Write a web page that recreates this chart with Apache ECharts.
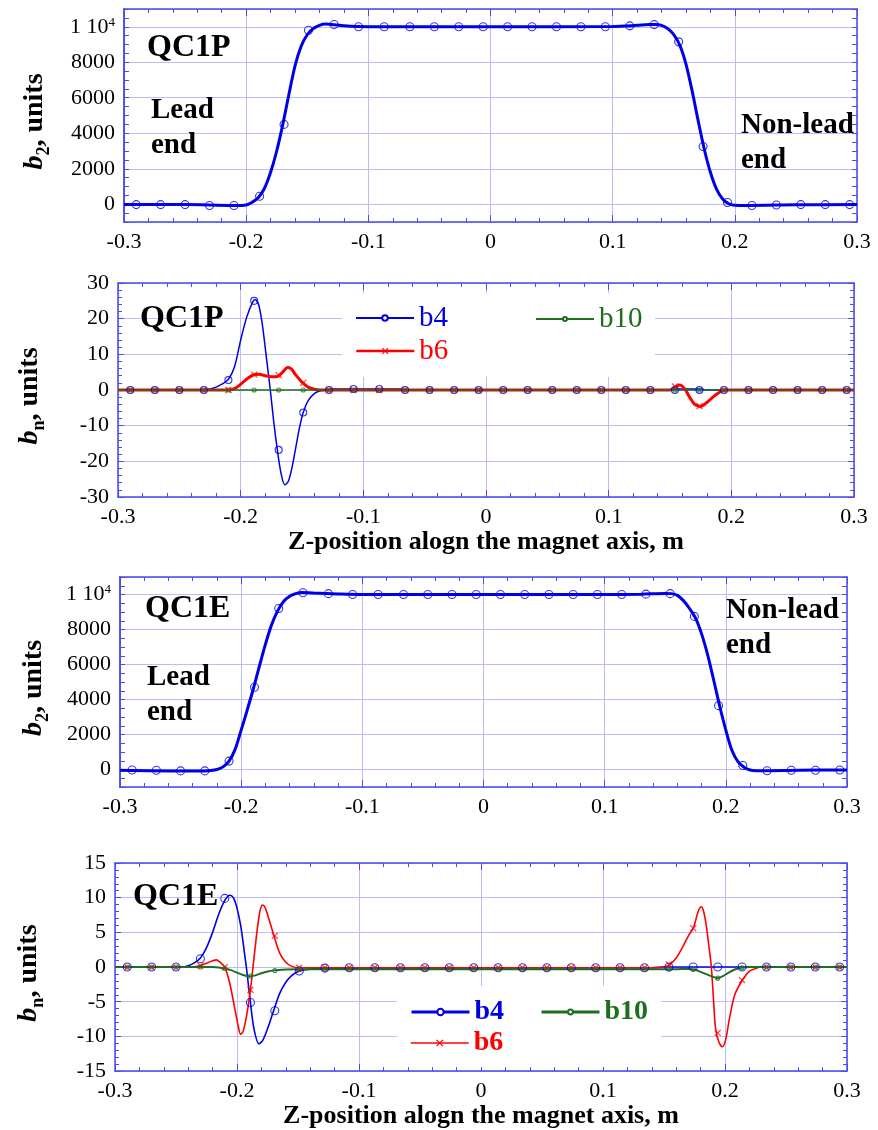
<!DOCTYPE html>
<html><head><meta charset="utf-8">
<script src="https://cdn.jsdelivr.net/npm/echarts@6/dist/echarts.min.js"></script>
<style>html,body{margin:0;padding:0;background:#fff}#c{width:878px;height:1130px}</style>
</head><body><div id="c"></div>
<script>
// ---------- DATA ----------
const zMarks = [-0.290,-0.270,-0.250,-0.230,-0.210,-0.189,-0.169,-0.149,-0.128,-0.108,-0.087,-0.066,-0.046,-0.026,-0.006,0.014,0.034,0.054,0.074,0.094,0.114,0.134,0.154,0.174,0.194,0.214,0.234,0.254,0.274,0.294];

// Panel 1: QC1P b2
const qc1pB2Z = [-0.3,-0.25,-0.21,-0.2,-0.195,-0.19,-0.185,-0.18,-0.175,-0.17,-0.165,-0.16,-0.155,-0.15,-0.145,-0.14,-0.135,-0.13,-0.12,-0.1,0,0.1,0.12,0.13,0.135,0.14,0.145,0.15,0.155,0.16,0.165,0.17,0.175,0.18,0.185,0.19,0.195,0.2,0.21,0.25,0.3];
const qc1pB2 = [-20,-20,-70,-40,120,380,900,1800,3000,4500,6200,7800,8900,9550,9900,10080,10150,10130,10050,10000,10000,10020,10080,10120,10120,10080,9900,9550,8950,7900,6400,4700,3100,1800,850,300,30,-60,-70,-30,-20];
const qc1pB2Marks = [-20,-20,-20,-70,-70,450,4500,9800,10130,10000,10000,10000,10000,10000,10000,10000,10000,10000,10000,10000,10050,10120,9150,3250,100,-70,-40,-20,-20,-20];

// Panel 2: QC1P bn
const qc1pB4Z = [-0.3,-0.235,-0.225,-0.22,-0.215,-0.21,-0.205,-0.2,-0.195,-0.19,-0.188,-0.185,-0.182,-0.179,-0.176,-0.173,-0.17,-0.167,-0.164,-0.161,-0.158,-0.155,-0.152,-0.149,-0.145,-0.14,-0.135,-0.13,-0.125,-0.07,-0.065,0.15,0.155,0.175,0.18,0.3];
const qc1pB4 = [0,0,0.3,0.8,1.7,3,6.5,14,20.5,24.8,25.3,23.5,17.5,9,0.5,-9,-17,-23.5,-26.6,-25.5,-21.5,-16,-10.5,-6.3,-3,-1,-0.2,0,0.3,0.3,0,0,0.3,0.3,0,0];
const qc1pB4Marks = [0,0,0,0,2.8,25,-16.8,-6.3,0,0.3,0.3,0,0,0,0,0,0,0,0,0,0,0,0,0,0,0,0,0,0,0];
const qc1pB6Z = [-0.3,-0.21,-0.205,-0.2,-0.195,-0.19,-0.185,-0.18,-0.175,-0.17,-0.165,-0.162,-0.159,-0.155,-0.15,-0.145,-0.14,-0.135,0.15,0.155,0.158,0.162,0.166,0.17,0.175,0.18,0.185,0.19,0.195,0.3];
const qc1pB6 = [0,0,0.4,1.6,3.1,4.2,4.4,4.0,3.7,3.8,5.3,6.3,6.0,4.2,2.2,0.8,0.2,0,0,1.0,1.4,0.3,-2,-4,-4.6,-3.5,-2,-0.7,0,0];
const qc1pB6Marks = [0,0,0,0,0,4.3,4.2,2.0,0,0,0,0,0,0,0,0,0,0,0,0,0,0,1.0,-4.5,0,0,0,0,0,0];
const qc1pB10Z = [-0.3,0.3];
const qc1pB10 = [0,0];
const qc1pB10Marks = [0,0,0,0,0,0,0,0,0,0,0,0,0,0,0,0,0,0,0,0,0,0,0,0,0,0,0,0,0,0];

// Panel 3: QC1E b2
const qc1eB2Z = [-0.3,-0.25,-0.23,-0.225,-0.22,-0.215,-0.21,-0.205,-0.2,-0.195,-0.19,-0.185,-0.18,-0.175,-0.17,-0.165,-0.16,-0.155,-0.15,-0.14,-0.12,-0.1,0,0.1,0.13,0.15,0.155,0.16,0.165,0.17,0.175,0.18,0.185,0.19,0.195,0.2,0.205,0.21,0.215,0.22,0.225,0.23,0.26,0.3];
const qc1eB2 = [-40,-80,-80,-60,0,150,480,1150,2250,3400,4600,5900,7150,8250,9050,9600,9900,10050,10120,10080,10030,10000,10000,10000,10020,10060,10050,9950,9650,9200,8650,7750,6550,5100,3600,2250,1100,450,130,-30,-70,-70,-40,-30];
const qc1eB2Marks = [-30,-40,-80,-80,480,4700,9200,10100,10050,10000,10000,10000,10000,10000,10000,10000,10000,10000,10000,10000,10000,10020,10050,8750,3650,230,-70,-40,-40,-30];

// Panel 4: QC1E bn
const qc1eB4Z = [-0.3,-0.245,-0.24,-0.235,-0.23,-0.225,-0.22,-0.215,-0.21,-0.206,-0.203,-0.2,-0.197,-0.194,-0.192,-0.189,-0.186,-0.182,-0.179,-0.175,-0.17,-0.165,-0.16,-0.155,-0.149,-0.14,-0.13,0.14,0.15,0.3];
const qc1eB4 = [0,0,0.2,0.6,1.3,2.8,5,7.6,9.6,10.35,10,8.5,6,2.2,-0.5,-5.1,-9,-11.07,-10.6,-8.9,-6.3,-3.8,-2.2,-1.2,-0.56,-0.3,-0.15,-0.1,0,0];
const qc1eB4Marks = [0,0,0,1.2,9.9,-5.1,-6.3,-0.56,-0.15,-0.1,-0.1,-0.1,-0.1,-0.1,-0.1,-0.1,-0.1,-0.1,-0.1,-0.1,-0.1,-0.1,0,0,0,0,0,0,0,0];
const qc1eB6Z = [-0.3,-0.24,-0.23,-0.225,-0.22,-0.2168,-0.214,-0.21,-0.206,-0.202,-0.199,-0.197,-0.195,-0.193,-0.191,-0.189,-0.187,-0.185,-0.183,-0.181,-0.179,-0.177,-0.174,-0.17,-0.165,-0.16,-0.155,-0.15,0.145,0.15,0.155,0.16,0.165,0.17,0.174,0.178,0.1806,0.1825,0.1847,0.1868,0.1888,0.1905,0.1923,0.195,0.1978,0.2005,0.2038,0.208,0.2142,0.22,0.225,0.23,0.3];
const qc1eB6 = [0,0,0.2,0.55,0.9,1.03,0.7,0,-2.3,-5.8,-8.5,-9.7,-9.3,-7.8,-5.8,-3.3,-0.2,3,6,8.2,8.95,8.6,7,4.7,2,0.7,0.1,-0.1,-0.1,0,0.4,1.3,2.8,4.5,5.6,8,8.7,8,5.9,3,0,-4.5,-8.9,-10.8,-11.5,-10.5,-7.3,-4,-1.9,-0.6,-0.2,0,0];
const qc1eB6Marks = [0,0,0,0.2,0,-3.3,4.5,-0.1,-0.1,-0.1,-0.1,-0.1,-0.1,-0.1,-0.1,-0.1,-0.1,-0.1,-0.1,-0.1,-0.1,-0.1,0.4,5.6,-9.5,-1.9,0,0,0,0];
const qc1eB10Z = [-0.3,-0.22,-0.215,-0.21,-0.205,-0.2,-0.195,-0.19,-0.185,-0.18,-0.175,-0.17,-0.16,-0.15,0.16,0.17,0.175,0.18,0.185,0.19,0.194,0.198,0.203,0.208,0.213,0.22,0.3];
const qc1eB10 = [0,0,-0.05,-0.2,-0.45,-0.8,-1.15,-1.33,-1.2,-0.9,-0.65,-0.48,-0.35,-0.3,-0.3,-0.28,-0.35,-0.7,-1.05,-1.4,-1.6,-1.35,-0.8,-0.35,-0.1,0,0];
const qc1eB10Marks = [0,0,0,0,-0.2,-1.3,-0.5,-0.3,-0.3,-0.3,-0.3,-0.3,-0.3,-0.3,-0.3,-0.3,-0.3,-0.3,-0.3,-0.3,-0.3,-0.3,-0.28,-0.3,-1.6,-0.1,0,0,0,0];

const xTitle = 'Z-position alogn the magnet axis, m';

// ---------- STYLE / LAYOUT ----------
const SERIF = 'Liberation Serif';
const AX = '#4a4af0', GRIDC = '#bcbcfa';
const BLUE = '#0000e6', RED = '#ff0000', GREEN = '#1f6e1f';
const XSYM = 'path://M0,0L10,10M10,0L0,10';

const grids = [
  {left:124, top:9,   width:733, height:213},
  {left:118, top:283, width:736, height:214},
  {left:120, top:577, width:727, height:210},
  {left:115, top:863, width:732, height:212}
];

function pairs(xs, ys){ return xs.map((x,i)=>[x, ys[i]]); }

const tickLabel = {show:true, margin:9, color:'#000', fontFamily:SERIF, fontSize:22, fontWeight:'normal'};

function xAxesFor(gi, withName, gap){
  const base = {gridIndex:gi, type:'value', min:-0.3, max:0.3, interval:0.1,
    axisLine:{show:true, onZero:false, lineStyle:{color:AX, width:1.5}},
    axisTick:{show:true, inside:true, length:7, lineStyle:{color:AX, width:1}},
    minorTick:{show:true, splitNumber:5, length:4, lineStyle:{color:AX, width:1}},
    minorSplitLine:{show:false}
  };
  return [
    Object.assign({}, base, {position:'bottom',
      axisLabel:Object.assign({}, tickLabel),
      splitLine:{show:true, lineStyle:{color:GRIDC, width:1}},
      name: withName ? xTitle : '', nameLocation:'middle', nameGap: gap,
      nameTextStyle:{fontFamily:SERIF, fontSize:26, fontWeight:'bold', color:'#000'}}),
    Object.assign({}, base, {position:'top', axisLabel:{show:false}, splitLine:{show:false}})
  ];
}

function yName(sub, gap){
  return {
    name:'{b|b}{s|' + sub + '}{u|, units}', nameLocation:'middle', nameRotate:90, nameGap:gap,
    nameTextStyle:{color:'#000', fontFamily:SERIF, fontWeight:'bold', fontSize:28, padding:[0,12,0,0], rich:{
      b:{fontFamily:SERIF, fontSize:28, fontWeight:'bold', fontStyle:'italic', lineHeight:36, verticalAlign:'middle', color:'#000'},
      s:{fontFamily:SERIF, fontSize:18, fontWeight:'bold', lineHeight:18, verticalAlign:'bottom', color:'#000'},
      u:{fontFamily:SERIF, fontSize:28, fontWeight:'bold', lineHeight:36, verticalAlign:'middle', color:'#000'}
    }}
  };
}

function b2YAxes(gi, gap){
  const line = {show:true, onZero:false, lineStyle:{color:AX, width:1.5}};
  return [
    Object.assign({gridIndex:gi, type:'value', min:-1000, max:11000, splitNumber:6, position:'left',
      axisLine:line, axisTick:{show:false},
      axisLabel:Object.assign({}, tickLabel, {
        formatter:v => (v < 0 || v > 10000) ? '' : (v === 10000 ? '{n|1 10}{p|4}' : String(v)),
        rich:{n:{fontFamily:SERIF, fontSize:22, color:'#000'}, p:{fontFamily:SERIF, fontSize:13, color:'#000', verticalAlign:'top', lineHeight:14}}}),
      splitLine:{show:true, lineStyle:{color:GRIDC, width:1}}}, yName('2', gap)),
    {gridIndex:gi, type:'value', min:-1000, max:11000, interval:500, position:'left',
      axisLine:line, axisTick:{show:true, inside:true, length:5, lineStyle:{color:AX}},
      axisLabel:{show:false}, splitLine:{show:false}},
    {gridIndex:gi, type:'value', min:-1000, max:11000, interval:500, position:'right',
      axisLine:line, axisTick:{show:true, inside:true, length:5, lineStyle:{color:AX}},
      axisLabel:{show:false}, splitLine:{show:false}}
  ];
}

function bnYAxes(gi, lim, step, gap){
  const line = {show:true, onZero:false, lineStyle:{color:AX, width:1.5}};
  const base = {gridIndex:gi, type:'value', min:-lim, max:lim, interval:step,
    axisLine:line, axisTick:{show:true, inside:true, length:6, lineStyle:{color:AX}},
    minorTick:{show:true, splitNumber:5, length:4, lineStyle:{color:AX}}};
  return [
    Object.assign({}, base, {position:'left',
      axisLabel:Object.assign({}, tickLabel),
      splitLine:{show:true, lineStyle:{color:GRIDC, width:1}}}, yName('n', gap)),
    Object.assign({}, base, {position:'right', axisLabel:{show:false}, splitLine:{show:false}})
  ];
}

function curve(name, xi, yi, xs, ys, color, width, symbol){
  return {type:'line', name, xAxisIndex:xi, yAxisIndex:yi, data:pairs(xs, ys),
    smooth:0.3, showSymbol:false, symbol, symbolSize:6,
    lineStyle:{color, width}, itemStyle:{color, borderColor:color, borderWidth:1.2},
    silent:true, animation:false, z:2};
}
function marks(name, xi, yi, ys, color, symbol, size){
  return {type:'scatter', name, xAxisIndex:xi, yAxisIndex:yi, data:pairs(zMarks, ys),
    symbol, symbolSize:size,
    itemStyle:{color:'rgba(0,0,0,0)', borderColor:color, borderWidth:1.1},
    silent:true, animation:false, z:3};
}

const xAxis = [].concat(xAxesFor(0,false,0), xAxesFor(1,true,27), xAxesFor(2,false,0), xAxesFor(3,true,26));
// yAxis indices: P1: 0,1,2  P2: 3,4  P3: 5,6,7  P4: 8,9
const yAxis = [].concat(b2YAxes(0,71), bnYAxes(1,30,10,70), b2YAxes(2,68), bnYAxes(3,15,5,68));

const series = [
  curve('QC1P b2', 0, 0, qc1pB2Z, qc1pB2, BLUE, 3, 'emptyCircle'),
  marks('QC1P b2 pts', 0, 0, qc1pB2Marks, BLUE, 'circle', 8),

  curve('b4', 2, 3, qc1pB4Z, qc1pB4, BLUE, 1.5, 'emptyCircle'),
  curve('b6', 2, 3, qc1pB6Z, qc1pB6, RED, 3, XSYM),
  curve('b10', 2, 3, qc1pB10Z, qc1pB10, GREEN, 1.5, 'emptyCircle'),
  marks('b4 pts', 2, 3, qc1pB4Marks, BLUE, 'circle', 7),
  marks('b6 pts', 2, 3, qc1pB6Marks, RED, XSYM, 6),
  marks('b10 pts', 2, 3, qc1pB10Marks, GREEN, 'circle', 4),

  curve('QC1E b2', 4, 5, qc1eB2Z, qc1eB2, BLUE, 3, 'emptyCircle'),
  marks('QC1E b2 pts', 4, 5, qc1eB2Marks, BLUE, 'circle', 8),

  curve('QC1E b4', 6, 8, qc1eB4Z, qc1eB4, BLUE, 1.6, 'emptyCircle'),
  curve('QC1E b6', 6, 8, qc1eB6Z, qc1eB6, RED, 1.6, XSYM),
  curve('QC1E b10', 6, 8, qc1eB10Z, qc1eB10, GREEN, 2, 'emptyCircle'),
  marks('QC1E b4 pts', 6, 8, qc1eB4Marks, BLUE, 'circle', 8),
  marks('QC1E b6 pts', 6, 8, qc1eB6Marks, RED, XSYM, 6),
  marks('QC1E b10 pts', 6, 8, qc1eB10Marks, GREEN, 'circle', 4)
];

function oneLegend(name, left, top, color, lw, ih, bold, sym){
  return {left, top, padding:0, itemWidth:58, itemHeight:ih, selectedMode:false, z:5,
    formatter: n => n.replace('QC1E ', ''),
    textStyle:{fontFamily:SERIF, fontSize: bold ? 28 : 29, fontWeight: bold ? 'bold' : 'normal', lineHeight:30, color},
    data:[{name, lineStyle:{width:lw, color}, itemStyle: sym === 'x' ? {color, borderColor:color, borderWidth:1.2} : {color}}]};
}

const legend = [
  oneLegend('b4', 355, 303, BLUE, 2, 7, false, 'o'),
  oneLegend('b6', 355, 336, RED, 2.5, 7, false, 'x'),
  oneLegend('b10', 535, 304, GREEN, 2, 5, false, 'o'),
  oneLegend('QC1E b4', 410, 997, BLUE, 3, 8, true, 'o'),
  oneLegend('QC1E b6', 410, 1028, RED, 1.5, 8, true, 'x'),
  oneLegend('QC1E b10', 540, 997, GREEN, 3, 6, true, 'o')
];

function label(text, x, y, size, lh){
  return {type:'text', x, y, z:10, silent:true,
    style:{text, fill:'#000', fontFamily:SERIF, fontSize:size, fontWeight:'bold', lineHeight:lh || size, verticalAlign:'middle', align:'left'}};
}

const graphic = [
  {type:'rect', shape:{x:342, y:293, width:313, height:84}, style:{fill:'#fff'}, z:1, silent:true},
  {type:'rect', shape:{x:397, y:986, width:264, height:81}, style:{fill:'#fff'}, z:1, silent:true},
  label('QC1P', 147, 48, 32),
  label('Lead\nend', 151, 128, 29, 35),
  label('Non-lead\nend', 741, 143, 29, 35),
  label('QC1P', 140, 319, 32),
  label('QC1E', 145, 609, 32),
  label('Lead\nend', 147, 695, 29, 35),
  label('Non-lead\nend', 726, 628, 29, 35),
  label('QC1E', 133, 897, 32)
];

const chart = echarts.init(document.getElementById('c'), null, {renderer:'canvas'});
chart.setOption({
  animation:false,
  backgroundColor:'#fff',
  textStyle:{fontFamily:SERIF},
  grid: grids,
  xAxis, yAxis, series, legend, graphic
});
</script>
</body></html>
